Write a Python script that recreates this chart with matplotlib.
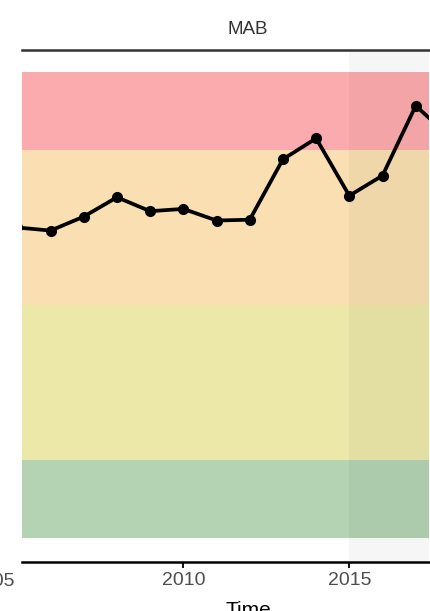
import numpy as np
import matplotlib.pyplot as plt

plt.rcParams['font.family'] = ['Liberation Sans', 'DejaVu Sans']

# Data
years = np.arange(2005, 2019)
values = [3.00, 2.96, 3.14, 3.39, 3.21, 3.24, 3.09, 3.10,
          3.88, 4.15, 3.41, 3.67, 4.57, 4.18]

# Status bands (bottom to top) and their colours
band_edges = [-1, 0, 2, 4, 5]
band_colors = ["#b3d3b3", "#ece8a8", "#f9dfb1", "#fbabad"]

shade_start = 2015
xticks = [2010, 2015]

W, H = 431, 611
fig = plt.figure(figsize=(W / 100, H / 100), dpi=100)
ax = fig.add_axes([22 / W, (H - 562) / H, (429 - 22) / W, (562 - 50) / H])

# Coloured bands
for lo, hi, c in zip(band_edges[:-1], band_edges[1:], band_colors):
    ax.axhspan(lo, hi, color=c, lw=0, zorder=0)

# Shaded recent period
ax.axvspan(shade_start, 2020, color="black", alpha=0.035, lw=0, zorder=1)

# Time series
ax.plot(years, values, color="black", lw=2.7, marker="o", ms=7, zorder=3)

ax.set_xlim(2005.14, 2017.40)
ax.set_ylim(-1.316, 5.29)

for side in ["left", "right"]:
    ax.spines[side].set_visible(False)
ax.spines["top"].set_color("#333333")
ax.spines["top"].set_linewidth(1.8)
ax.spines["bottom"].set_color("black")
ax.spines["bottom"].set_linewidth(1.8)

ax.set_yticks([])
ax.set_xticks(xticks)
ax.set_xticklabels([str(t) for t in xticks])
ax.tick_params(axis="x", length=4, width=1.3, color="black",
               labelsize=14, labelcolor="#4d4d4d", pad=3)

# Partially cut-off first label and labels outside the crop
fig.text(14 / W, 1 - 581 / H, "2005", ha="right", va="center",
         fontsize=14, color="#4d4d4d")
fig.text(248 / W, 1 - 30 / H, "MAB", ha="center", va="center",
         fontsize=13.5, color="#333333")
fig.text(248 / W, 1 - 601 / H, "Time", ha="center", va="top",
         fontsize=15, color="black")

fig.savefig("out.png", dpi=100)
